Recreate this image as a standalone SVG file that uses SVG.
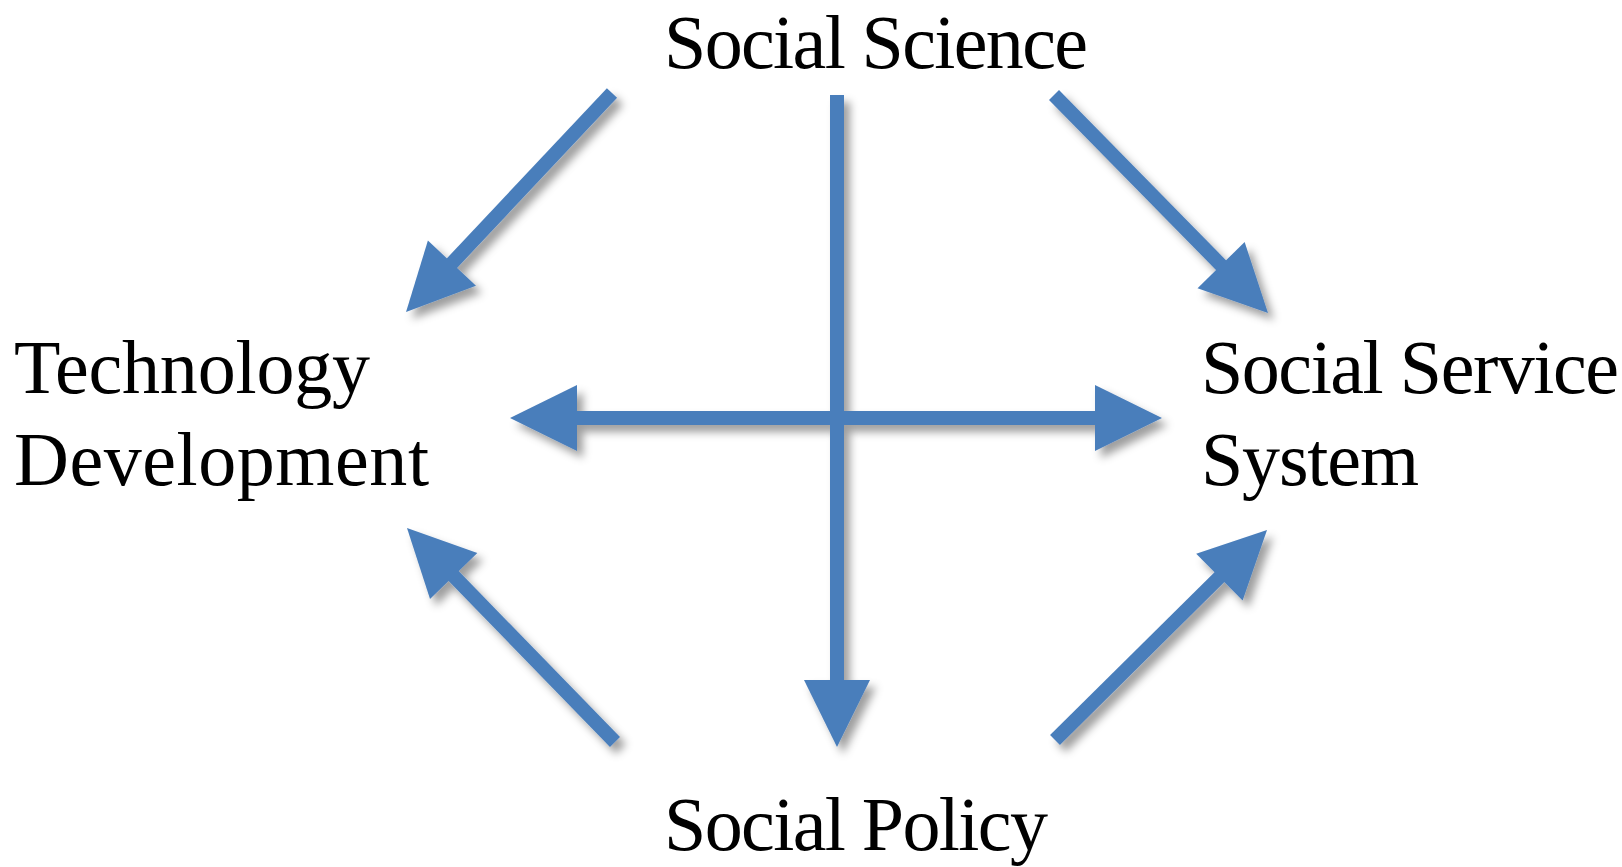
<svg xmlns="http://www.w3.org/2000/svg" width="1622" height="867" viewBox="0 0 1622 867">
  <style>
    .label { font-family: "Liberation Serif", "Times New Roman", serif; font-size: 76px; fill: #000; }
    .link { stroke: #4a7ebb; stroke-width: 14; fill: none; stroke-linecap: butt; }
  </style>
  <defs>
    <marker id="head" viewBox="-37 -33 67 66" refX="0" refY="0" markerWidth="67" markerHeight="66" markerUnits="userSpaceOnUse" orient="auto-start-reverse" overflow="visible">
      <path d="M-37,-33 L30,0 L-37,33 Z" fill="#4a7ebb"/>
    </marker>
    <filter id="drop" x="-20%" y="-20%" width="140%" height="140%">
      <feGaussianBlur in="SourceAlpha" stdDeviation="4.5"/>
      <feOffset dx="6" dy="7" result="blur"/>
      <feFlood flood-color="#000" flood-opacity="0.38"/>
      <feComposite in2="blur" operator="in" result="shadow"/>
      <feMerge>
        <feMergeNode in="shadow"/>
        <feMergeNode in="SourceGraphic"/>
      </feMerge>
    </filter>
  </defs>
  <rect width="1622" height="867" fill="#fff"/>

  <g id="connectors" filter="url(#drop)">
    <!-- Social Science to the three other nodes -->
    <line class="link" x1="612" y1="93" x2="426.6" y2="290.1" marker-end="url(#head)"/>
    <line class="link" x1="1054" y1="95" x2="1247" y2="291.6" marker-end="url(#head)"/>
    <line class="link" x1="837" y1="95" x2="837" y2="717" marker-end="url(#head)"/>
    <!-- Social Policy back to the side nodes -->
    <line class="link" x1="615" y1="742" x2="427.9" y2="549.5" marker-end="url(#head)"/>
    <line class="link" x1="1055" y1="740" x2="1245.7" y2="551.1" marker-end="url(#head)"/>
    <!-- two-way link between the side nodes -->
    <line class="link" x1="540" y1="418" x2="1132" y2="418" marker-start="url(#head)" marker-end="url(#head)"/>
  </g>

  <g id="social-science">
    <text class="label" x="664" y="68" textLength="424">Social Science</text>
  </g>
  <g id="technology-development">
    <text class="label" x="14" y="393" textLength="356">Technology</text>
    <text class="label" x="14" y="485" textLength="415">Development</text>
  </g>
  <g id="social-service-system">
    <text class="label" x="1201" y="393" textLength="418">Social Service</text>
    <text class="label" x="1201" y="485" textLength="218">System</text>
  </g>
  <g id="social-policy">
    <text class="label" x="664" y="850" textLength="384">Social Policy</text>
  </g>
</svg>
